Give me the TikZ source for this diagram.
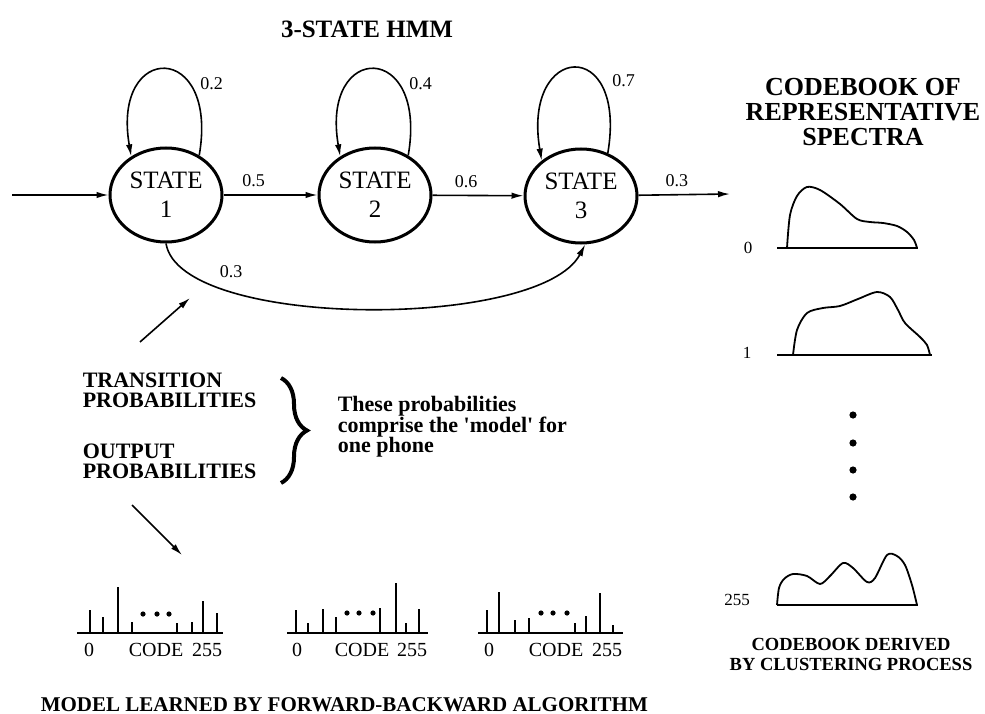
\documentclass[tikz,border=0pt]{standalone}
\usepackage{fontspec}
\setmainfont{Liberation Serif}
\usetikzlibrary{arrows.meta,positioning,shapes.geometric,decorations.pathreplacing}

\begin{document}
\begin{tikzpicture}[x=1pt, y=-1pt, line width=1.6pt,
  >={Latex[length=12pt, width=6.5pt]},
  st/.style={draw, ellipse, line width=3pt, minimum width=112pt,
             minimum height=94pt, inner sep=0pt, align=center,
             font=\fontsize{25}{29}\selectfont},
  pr/.style={inner sep=1pt, font=\fontsize{18}{20}\selectfont},
  hd/.style={inner sep=0pt, align=center,
             font=\fontsize{26}{25}\selectfont\bfseries},
  lab/.style={inner sep=0pt, align=left, anchor=north west,
              font=\fontsize{22}{20}\selectfont\bfseries},
  cd/.style={inner sep=0pt, font=\fontsize{20}{22}\selectfont},
  bar/.style={line width=1.5pt},
  spec/.style={line width=1.8pt, line join=round}]
  \useasboundingbox (0,0) rectangle (985,714);

  \node[hd, font=\fontsize{25}{27}\selectfont\bfseries] (title) at (367,29) {3-STATE HMM};

  \node[st] (s1) at (166,195) {STATE\\1};
  \node[st] (s2) at (375,195) {STATE\\2};
  \node[st] (s3) at (581,196) {STATE\\3};
  \coordinate (in)  at (12,195);
  \coordinate (out) at (730,194);

  \draw[->] (in) -- (s1);
  \draw[->] (s1) -- node[pr, above=6pt, pos=0.32]{0.5} (s2);
  \draw[->] (s2) -- node[pr, above=6pt, pos=0.37]{0.6} (s3);
  \draw[->] (s3) -- node[pr, above=6pt, pos=0.42]{0.3} (out);

  \draw[->] (s1.50) .. controls +(20,-115) and +(-20,-115) .. (s1.132)
    node[pr, pos=0.3, right=9pt]{0.2};
  \draw[->] (s2.50) .. controls +(20,-115) and +(-20,-115) .. (s2.132)
    node[pr, pos=0.3, right=9pt]{0.4};
  \draw[->] (s3.58) .. controls +(20,-118) and +(-20,-118) .. (s3.138)
    node[pr, pos=0.3, right=12pt]{0.7};
  \draw[->] (s1.south) .. controls +(14,86) and +(-45,86) .. (s3.275)
    node[pr, pos=0.25, above=12pt]{0.3};

  \coordinate (upA) at (140,342);
  \coordinate (upB) at (190,298);
  \draw[->] (upA) -- (upB);

  \node[lab] (trans) at (82,372) {TRANSITION\\PROBABILITIES};
  \node[lab] (outp)  at (82,443) {OUTPUT\\PROBABILITIES};
  \draw[decorate, decoration={brace, amplitude=26pt}, line width=4pt]
    (281,378) -- (281,483);
  \node[lab] (note) at (337,395)
    {These probabilities\\comprise the \textquotesingle model\textquotesingle{} for\\one phone};

  \coordinate (dnA) at (132,505);
  \coordinate (dnB) at (182,555);
  \draw[->] (dnA) -- (dnB);

  % output histograms
  \draw[bar] (77,633) -- (223,633);
  \foreach \x/\h in {90/23,103/16,118/46,132/11,177/10,192/11,203/32,217/20}
    \draw[bar] (\x,633) -- ++(0,-\h);
  \foreach \x in {143,157,169} \fill (\x,614) circle (2.6);
  \node[cd] (h1a) at (89,650) {0};
  \node[cd] (h1b) at (156,650) {CODE};
  \node[cd] (h1c) at (207,650) {255};

  \draw[bar] (287,633) -- (428,633);
  \foreach \x/\h in {296/23,308/10,323/24,336/16,380/25,396/50,406/10,419/24}
    \draw[bar] (\x,633) -- ++(0,-\h);
  \foreach \x in {347,359,373} \fill (\x,613) circle (2.6);
  \node[cd] (h2a) at (297,650) {0};
  \node[cd] (h2b) at (362,650) {CODE};
  \node[cd] (h2c) at (412,650) {255};

  \draw[bar] (478,633) -- (623,633);
  \foreach \x/\h in {487/23,499/41,515/13,529/15,575/10,586/17,600/40,613/8}
    \draw[bar] (\x,633) -- ++(0,-\h);
  \foreach \x in {541,553,567} \fill (\x,613) circle (2.6);
  \node[cd] (h3a) at (489,650) {0};
  \node[cd] (h3b) at (556,650) {CODE};
  \node[cd] (h3c) at (607,650) {255};

  \node[lab, font=\fontsize{21}{22}\selectfont\bfseries, anchor=base west] (learn)
    at (40,711) {MODEL LEARNED BY FORWARD-BACKWARD ALGORITHM};

  % codebook
  \node[hd, anchor=north] (book) at (863,77) {CODEBOOK OF\\REPRESENTATIVE\\SPECTRA};

  \draw[spec] (777,248) -- (918,248);
  \draw[spec] plot[smooth] coordinates {(787,248) (790,215) (797,196) (807,187)
    (820,190) (840,204) (857,219) (870,222) (883,223) (897,226) (907,232)
    (914,240) (917,248)};
  \node[cd, font=\fontsize{17}{19}\selectfont] (c0) at (748,248) {0};

  \draw[spec] (777,355) -- (932,355);
  \draw[spec] plot[smooth] coordinates {(793,355) (797,330) (807,313) (823,308)
    (840,306) (858,299) (877,292) (890,297) (898,310) (905,323) (920,337)
    (927,345) (930,355)};
  \node[cd, font=\fontsize{17}{19}\selectfont] (c1) at (747,353) {1};

  \foreach \y in {415,443,470,497} \fill (853,\y) circle (3.6);

  \draw[spec] (777,605) -- (918,605);
  \draw[spec] plot[smooth] coordinates {(777,605) (779,588) (784,579) (793,574)
    (807,576) (820,584) (830,576) (843,563) (853,568) (867,582) (875,578)
    (887,555) (897,556) (905,565) (912,585) (917,605)};
  \node[cd, font=\fontsize{17}{19}\selectfont] (c255) at (737,600) {255};

  \node[hd, font=\fontsize{18.5}{20}\selectfont\bfseries, anchor=north] (derived)
    at (851,637) {CODEBOOK DERIVED\\BY CLUSTERING PROCESS};
\end{tikzpicture}
\end{document}
